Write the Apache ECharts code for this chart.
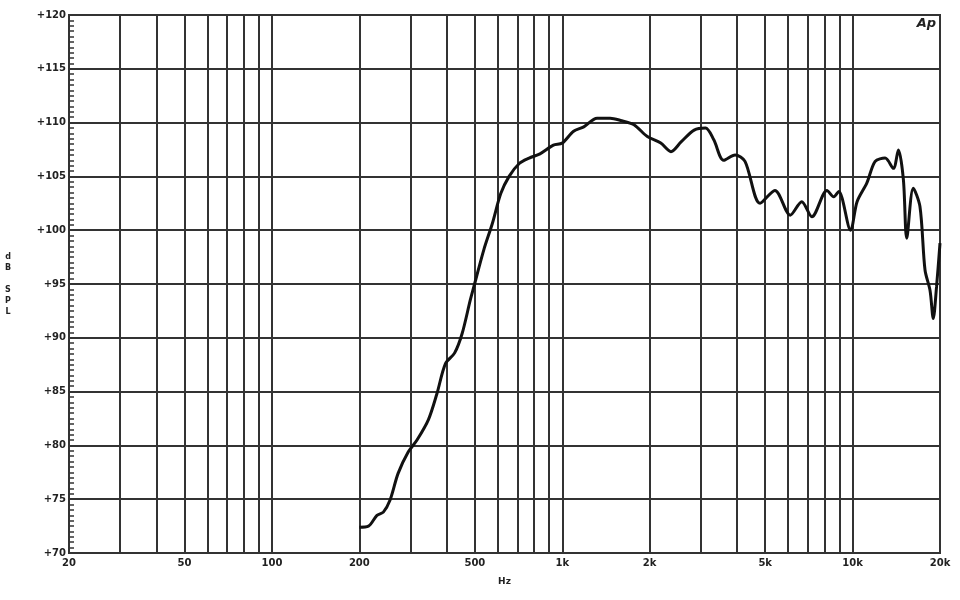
<!DOCTYPE html>
<html>
<head>
<meta charset="utf-8">
<script src="https://cdn.jsdelivr.net/npm/echarts@6/dist/echarts.min.js"></script>
<style>html,body{margin:0;padding:0;background:#fff}#c{width:960px;height:600px}</style>
</head>
<body>
<div id="c"></div>
<script>
var freqHz = [200,215,230,242,255,272,295,316,346,370,396,426,452,482,496,537,574,614,656,711,769,838,932,1000,1094,1186,1318,1462,1588,1766,1964,2184,2368,2566,2846,3114,3326,3596,3938,4260,4800,5400,6100,6680,7240,8160,8610,8960,9840,10360,11200,11960,12940,13820,14380,14960,15360,16180,17060,17760,18480,18960,19460,20000];
var splDb = [72.4,72.5,73.5,73.8,74.9,77.4,79.4,80.5,82.4,84.8,87.6,88.6,90.4,93.5,94.75,98.2,100.6,103.4,105.0,106.2,106.7,107.1,107.9,108.1,109.2,109.6,110.4,110.4,110.2,109.8,108.7,108.1,107.3,108.2,109.3,109.5,108.4,106.5,107.0,106.4,102.5,103.7,101.4,102.65,101.25,103.7,103.1,103.6,100.0,102.65,104.4,106.4,106.7,105.75,107.45,104.7,99.25,103.9,102.2,96.3,94.4,91.8,94.75,98.8];
var gridFreqs = [20,30,40,50,60,70,80,90,100,200,300,400,500,600,700,800,900,1000,2000,3000,4000,5000,6000,7000,8000,9000,10000,20000];
var freqLabels = [20,50,100,200,500,1000,2000,5000,10000,20000];

var data = freqHz.map(function(f,i){return [f, splDb[i]];});
var chart = echarts.init(document.getElementById('c'), null, {renderer:'canvas'});
chart.setOption({
  animation:false,
  backgroundColor:'#fff',
  grid:{left:69,right:20,top:15,bottom:47,show:true,borderColor:'#333',borderWidth:2},
  xAxis:{
    type:'log', logBase:10, min:20, max:20000,
    name:'Hz', nameLocation:'middle', nameGap:24,
    nameTextStyle:{fontFamily:'DejaVu Sans',fontWeight:'bold',fontSize:9,color:'#222'},
    axisLine:{show:true,lineStyle:{color:'#333',width:2}},
    axisTick:{show:false, customValues:gridFreqs},
    axisLabel:{customValues:freqLabels, margin:5, fontFamily:'DejaVu Sans', fontWeight:'bold', fontSize:10, color:'#222',
      formatter:function(v){return v>=1000 ? (v/1000)+'k' : String(v);}},
    splitLine:{show:true,lineStyle:{color:'#333',width:2}},
    minorTick:{show:false}, minorSplitLine:{show:false}
  },
  yAxis:{
    type:'value', min:70, max:120, interval:5,
    name:'d\nB\n\nS\nP\nL', nameLocation:'middle', nameGap:61, nameRotate:0,
    nameTextStyle:{fontFamily:'DejaVu Sans',fontWeight:'bold',fontSize:8,color:'#222',lineHeight:11,align:'center'},
    axisLine:{show:true,lineStyle:{color:'#333',width:2}},
    axisTick:{show:true,inside:true,length:6,lineStyle:{color:'#333',width:2}},
    minorTick:{show:true,splitNumber:10,length:5,lineStyle:{color:'#333',width:1.5}},
    axisLabel:{margin:3,fontFamily:'DejaVu Sans',fontWeight:'bold',fontSize:10,color:'#222',
      formatter:function(v){return '+'+v;}},
    splitLine:{show:true,lineStyle:{color:'#333',width:2}}
  },
  graphic:[{
    type:'text', right:24, top:17,
    style:{text:'Ap', fontFamily:'DejaVu Sans', fontStyle:'italic', fontWeight:'bold', fontSize:13, fill:'#222'}
  }],
  series:[{
    type:'line', data:data, showSymbol:false, smooth:0.3,
    lineStyle:{color:'#111',width:3}
  }]
});
</script>
</body>
</html>
